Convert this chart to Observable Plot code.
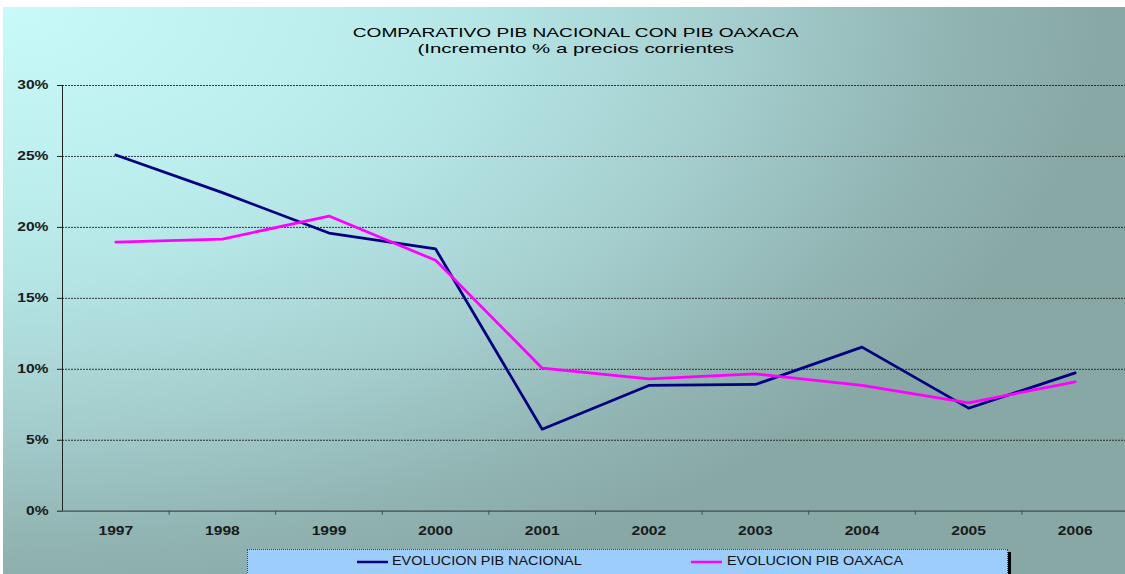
<!DOCTYPE html>
<html>
<head>
<meta charset="utf-8">
<script src="https://cdn.jsdelivr.net/npm/d3@7"></script>
<script src="https://cdn.jsdelivr.net/npm/@observablehq/plot@0.6"></script>
<style>
  html, body { margin: 0; padding: 0; background: #fff; overflow: hidden; width: 1125px; height: 574px; }
  body { position: relative; font-family: "Liberation Sans", Arial, sans-serif; }
  #bg { position: absolute; left: 3px; top: 7px; width: 1122px; height: 567px;
        background: radial-gradient(ellipse 1100px 620px at 0px 0px, #c8fafa 0%, #bdeeee 30%, #b4e4e4 45%, #a6d0d0 65%, #92b6b4 85%, #88a8a6 100%); }
  #header { position: relative; height: 70px; }
  .tl { position: absolute; left: 13px; width: 1125px; text-align: center; font-size: 13px; line-height: 13px; color: #000; white-space: nowrap; }
  .tl span { display: inline-block; transform-origin: center; }
  #chart { position: relative; height: 475px; }
  #legend { position: relative; height: 29px; }
  #lgbox { position: absolute; left: 247px; top: 4px; width: 759px; height: 40px; background: #9ccdfb;
           border: 1px dotted #444; box-shadow: 3px 3px 0 #000; }
  .lgi { position: absolute; top: 0; height: 29px; }
  .lgi svg { position: absolute; top: 15px; left: 0; }
  .lgi span { position: absolute; left: 0; top: 10px; font-size: 12px; line-height: 12px; color: #111; white-space: nowrap; display: inline-block; transform-origin: left center; transform: scaleX(1.2); }
</style>
</head>
<body>
<div id="bg"></div>
<div id="header">
  <div class="tl" style="top:26px"><span id="t1s"></span></div>
  <div class="tl" style="top:42px"><span id="t2s"></span></div>
</div>
<div id="chart"></div>
<div id="legend"><div id="lgbox"></div></div>
<script>
const titleText = "COMPARATIVO PIB NACIONAL CON PIB OAXACA";
const subtitleText = "(Incremento % a precios corrientes";
const years = [1997, 1998, 1999, 2000, 2001, 2002, 2003, 2004, 2005, 2006];
const pibNacional = [25.1, 22.45, 19.6, 18.48, 5.78, 8.86, 8.93, 11.56, 7.26, 9.75];
const pibOaxaca = [18.97, 19.18, 20.8, 17.68, 10.08, 9.33, 9.68, 8.86, 7.64, 9.12];
const seriesNames = ["EVOLUCION PIB NACIONAL", "EVOLUCION PIB OAXACA"];
const seriesColors = ["#000080", "#ff00ff"];
const yTicks = [0, 5, 10, 15, 20, 25, 30];

document.getElementById("t1s").textContent = titleText;
document.getElementById("t2s").textContent = subtitleText;
document.getElementById("t1s").style.transform = "scaleX(1.47)";
document.getElementById("t2s").style.transform = "scaleX(1.57)";

const data = years.flatMap((yr, i) => [
  {year: yr, value: pibNacional[i], series: seriesNames[0]},
  {year: yr, value: pibOaxaca[i], series: seriesNames[1]}
]);
const boundaries = years.map(y => y + 0.5).slice(0, -1);

const chart = Plot.plot({
  width: 1125,
  height: 475,
  marginTop: 15,
  marginBottom: 34.3,
  marginLeft: 62,
  marginRight: -3,
  style: {background: "transparent", overflow: "visible", fontFamily: "'Liberation Sans', Arial, sans-serif", color: "#1a1a1a"},
  x: {type: "linear", domain: [years[0] - 0.5, years[years.length - 1] + 0.5]},
  y: {domain: [0, 30]},
  color: {domain: seriesNames, range: seriesColors},
  marks: [
    Plot.gridY(yTicks.filter(d => d > 0), {stroke: "#1a1a1a", strokeOpacity: 0.85, strokeDasharray: "2,1"}),
    Plot.ruleY([0], {stroke: "#3f4f4f", strokeWidth: 1.2}),
    Plot.ruleX([years[0] - 0.5], {stroke: "#222"}),
    Plot.axisY({ticks: yTicks, tickFormat: d => d + "%", tickSize: 5, tickPadding: 9, fontWeight: "bold", fontSize: 12, label: null, stroke: "#222"}),
    Plot.axisX({ticks: boundaries, tickSize: 4, tickFormat: () => "", label: null, stroke: "#3f4f4f"}),
    Plot.axisX({ticks: years, tickSize: 0, tickPadding: 15, tickFormat: d => String(d), fontWeight: "bold", fontSize: 12, label: null}),
    Plot.line(data, {x: "year", y: "value", z: "series", stroke: "series", strokeWidth: 2.75})
  ]
});

document.getElementById("chart").appendChild(chart);
// widen tick labels horizontally (the reference text is stretched)
chart.querySelectorAll('g[aria-label$="tick label"] text').forEach(t => {
  const w = t.getComputedTextLength();
  if (w > 0) {
    t.setAttribute("textLength", (w * 1.3).toFixed(2));
    t.setAttribute("lengthAdjust", "spacingAndGlyphs");
  }
});

// legend
const legendPos = [{sw: 356.5, tx: 392}, {sw: 691, tx: 727}];
const legend = document.getElementById("legend");
seriesNames.forEach((name, i) => {
  const item = document.createElement("div");
  item.className = "lgi";
  item.style.left = legendPos[i].sw + "px";
  item.innerHTML = `<svg width="32" height="4"><line x1="0" y1="2" x2="31" y2="2" stroke="${seriesColors[i]}" stroke-width="2.5"/></svg>`;
  const sp = document.createElement("span");
  sp.textContent = name;
  sp.style.left = (legendPos[i].tx - legendPos[i].sw) + "px";
  item.appendChild(sp);
  legend.appendChild(item);
});
</script>
</body>
</html>
